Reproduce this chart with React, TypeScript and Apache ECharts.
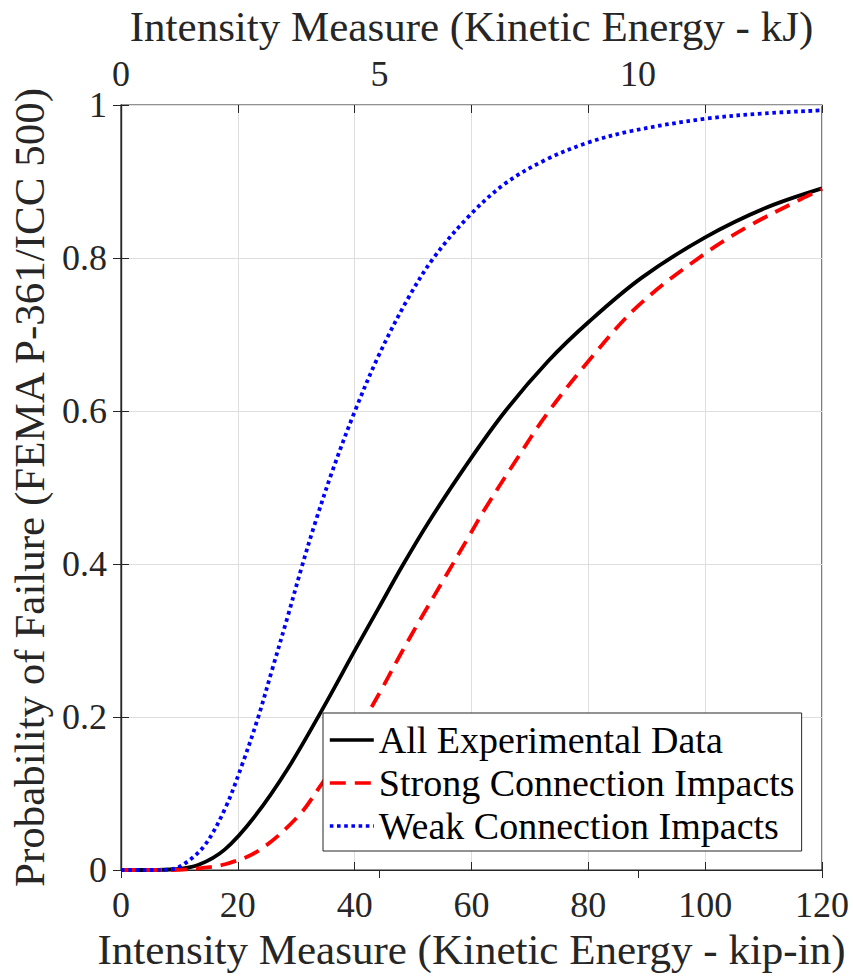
import React, { useEffect, useRef } from "react";
import * as echarts from "echarts";

// Readings of the three fragility curves: [kinetic energy (kip-in), probability of failure]
const allExperimental: [number, number][] = [
  [0, 0], [5, 0], [9.2, 0.001], [13.2, 0.0065], [17.8, 0.027], [22.9, 0.07],
  [28.6, 0.133], [34.4, 0.209], [40.1, 0.288], [44.0, 0.341], [48.2, 0.398],
  [52.6, 0.454], [58.9, 0.527], [65.7, 0.599], [73.1, 0.665], [80.0, 0.716],
  [89.1, 0.774], [100, 0.827], [110.2, 0.865], [120, 0.891],
];
const strongConnection: [number, number][] = [
  [0, 0], [8, 0], [13.2, 0.002], [17.8, 0.0075], [23.5, 0.025], [30.3, 0.07],
  [34.4, 0.113], [38, 0.153], [41.5, 0.195], [44.6, 0.236], [48.0, 0.284],
  [51.5, 0.331], [55.5, 0.383], [59.7, 0.438], [62.3, 0.472], [67.4, 0.533],
  [72.9, 0.596], [80.0, 0.665], [88.6, 0.738], [100, 0.806], [108, 0.844],
  [115.9, 0.875], [120, 0.89],
];
const weakConnection: [number, number][] = [
  [0, 0], [5, 0], [8.7, 0.001], [11.2, 0.01], [14.4, 0.033], [17.8, 0.08],
  [20.7, 0.137], [23.5, 0.2], [25.8, 0.26], [28.6, 0.333], [30.9, 0.395],
  [33.2, 0.453], [36.3, 0.524], [40.05, 0.6], [44.2, 0.674], [49.2, 0.748],
  [53.6, 0.801], [59.6, 0.855], [65.7, 0.897], [72.6, 0.928], [80, 0.951],
  [87.4, 0.966], [100, 0.982], [110.2, 0.989], [120, 0.993],
];

const seriesNames = ["All Experimental Data", "Strong Connection Impacts", "Weak Connection Impacts"];
const xMaxKipIn = 120;
const kJPerKipIn = 0.112985;
const xTickStep = 20;
const kJTickStep = 5;
const yTickStep = 0.2;

const FONT = "Liberation Serif";
const AXIS_COLOR = "#262626";
const GRID_COLOR = "#dedede";

export default function App() {
  const ref = useRef<HTMLDivElement>(null);

  useEffect(() => {
    if (!ref.current) return;
    const chart = echarts.init(ref.current, undefined, { renderer: "svg" });
    const tick = { show: true, inside: true, length: 8, lineStyle: { color: AXIS_COLOR, width: 1 } };
    const tickLabel = { fontFamily: FONT, fontSize: 36, color: AXIS_COLOR };
    const nameStyle = { fontFamily: FONT, fontSize: 43, color: AXIS_COLOR };

    chart.setOption({
      animation: false,
      backgroundColor: "#fff",
      textStyle: { fontFamily: FONT },
      grid: {
        left: 121, top: 104, right: 31, bottom: 107,
        show: true, borderColor: AXIS_COLOR, borderWidth: 1.2, backgroundColor: "#fff",
      },
      xAxis: [
        {
          type: "value", position: "bottom", min: 0, max: xMaxKipIn, interval: xTickStep,
          name: "Intensity Measure (Kinetic Energy - kip-in)", nameLocation: "middle", nameGap: 50,
          nameTextStyle: nameStyle,
          axisLine: { show: true, lineStyle: { color: AXIS_COLOR, width: 1.2 } },
          axisTick: tick,
          axisLabel: { ...tickLabel, margin: 17 },
          splitLine: { show: true, lineStyle: { color: GRID_COLOR, width: 1 } },
        },
        {
          type: "value", position: "top", min: 0, max: xMaxKipIn * kJPerKipIn, interval: kJTickStep,
          name: "Intensity Measure (Kinetic Energy - kJ)", nameLocation: "middle", nameGap: 57,
          nameTextStyle: nameStyle,
          axisLine: { show: true, lineStyle: { color: AXIS_COLOR, width: 1.2 } },
          axisTick: tick,
          axisLabel: {
            ...tickLabel, margin: 13,
            formatter: (v: number) =>
              Math.abs(v - Math.round(v / kJTickStep) * kJTickStep) < 1e-6 ? String(Math.round(v)) : "",
          },
          splitLine: { show: false },
        },
        {
          type: "value", position: "top", min: 0, max: xMaxKipIn, interval: xTickStep,
          axisLine: { show: false }, axisTick: tick, axisLabel: { show: false }, splitLine: { show: false },
        },
      ],
      yAxis: [
        {
          type: "value", position: "left", min: 0, max: 1, interval: yTickStep,
          name: "Probability of Failure (FEMA P-361/ICC 500)", nameLocation: "middle", nameGap: 61,
          nameRotate: 90, nameTextStyle: nameStyle,
          axisLine: { show: true, lineStyle: { color: AXIS_COLOR, width: 1.2 } },
          axisTick: tick,
          axisLabel: { ...tickLabel, margin: 14 },
          splitLine: { show: true, lineStyle: { color: GRID_COLOR, width: 1 } },
        },
        {
          type: "value", position: "right", min: 0, max: 1, interval: yTickStep,
          axisLine: { show: true, lineStyle: { color: AXIS_COLOR, width: 1.2 } },
          axisTick: tick, axisLabel: { show: false }, splitLine: { show: false },
        },
      ],
      legend: {
        show: true,
        orient: "vertical",
        left: 323, top: 713,
        padding: [8, 7, 6, 5],
        itemGap: 5,
        itemWidth: 44,
        itemHeight: 14,
        itemStyle: { opacity: 0 },
        lineStyle: { width: 3.6 },
        backgroundColor: "#fff",
        borderColor: AXIS_COLOR,
        borderWidth: 1,
        textStyle: { fontFamily: FONT, fontSize: 38, color: "#000", lineHeight: 38 },
        itemTextGap: 6,
        data: seriesNames,
      },
      series: [
        {
          name: seriesNames[0], type: "line", data: allExperimental, xAxisIndex: 0, yAxisIndex: 0,
          symbol: "none", showSymbol: false, smooth: 0.35,
          lineStyle: { color: "#000000", width: 3.8, type: "solid" },
          itemStyle: { color: "#000000" },
        },
        {
          name: seriesNames[1], type: "line", data: strongConnection, xAxisIndex: 0, yAxisIndex: 0,
          symbol: "none", showSymbol: false, smooth: 0.35,
          lineStyle: { color: "#ff0000", width: 3.8, type: [16, 9], cap: "butt" },
          itemStyle: { color: "#ff0000" },
        },
        {
          name: seriesNames[2], type: "line", data: weakConnection, xAxisIndex: 0, yAxisIndex: 0,
          symbol: "none", showSymbol: false, smooth: 0.35,
          lineStyle: { color: "#0000ff", width: 3.8, type: [3.6, 3.6], cap: "butt" },
          itemStyle: { color: "#0000ff" },
        },
      ],
    });
    return () => chart.dispose();
  }, []);

  return (
    <div
      ref={ref}
      style={{ position: "absolute", left: 0, top: 0, width: 853, height: 977, background: "#fff" }}
    />
  );
}
